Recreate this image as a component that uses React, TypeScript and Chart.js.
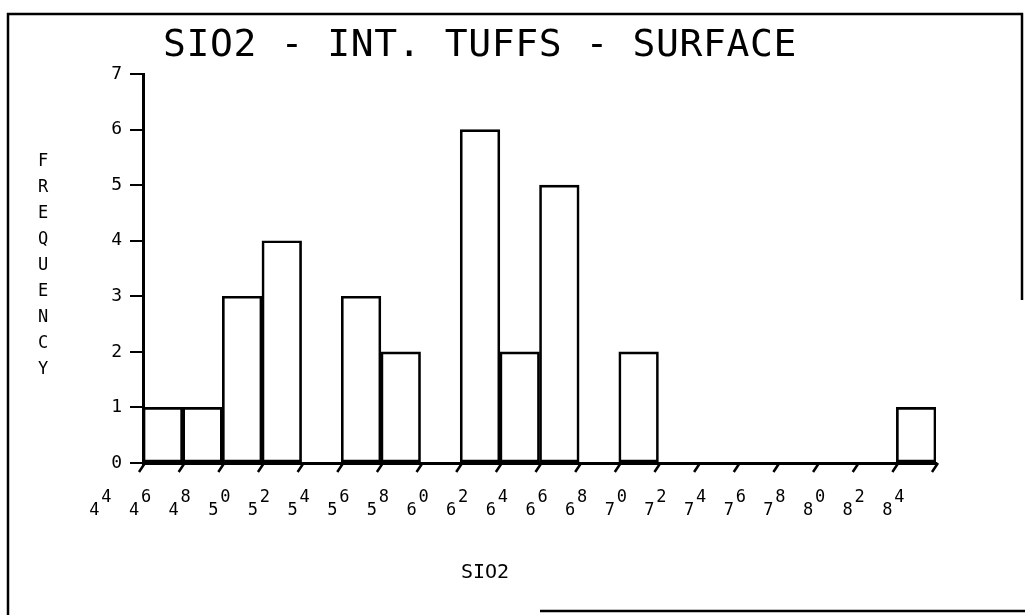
import React, { useEffect, useRef } from 'react';
import { Chart, registerables } from 'chart.js';

Chart.register(...registerables);

const TITLE = 'SIO2 - INT. TUFFS - SURFACE';
const X_TITLE = 'SIO2';
const Y_TITLE = 'FREQUENCY';

// histogram bins (lower edge, width 2) and their counts
const binStarts = [46, 48, 50, 52, 54, 56, 58, 60, 62, 64, 66, 68, 70, 72, 74, 76, 78, 80, 82, 84];
const frequencies = [1, 1, 3, 4, 0, 3, 2, 0, 6, 2, 5, 0, 2, 0, 0, 0, 0, 0, 0, 1];
const BIN_WIDTH = 2;

// x tick labels (drawn as base digit + superscript digit)
const xTickValues = [44, 46, 48, 50, 52, 54, 56, 58, 60, 62, 64, 66, 68, 70, 72, 74, 76, 78, 80, 82, 84];
const xTickLabels = ['44', '46', '48', '50', '52', '54', '56', '58', '60', '62', '64', '66', '68', '70', '72', '74', '76', '78', '80', '82', '84'];
const xTickMarks = [46, 48, 50, 52, 54, 56, 58, 60, 62, 64, 66, 68, 70, 72, 74, 76, 78, 80, 82, 84, 86];

const Y_MIN = 0;
const Y_MAX = 7;
const X_MIN = 46;
const X_MAX = 86;

const FONT = '"DejaVu Sans Mono", monospace';

const decorPlugin = {
  id: 'decor',
  afterDraw(chart: any) {
    const ctx = chart.ctx as CanvasRenderingContext2D;
    const xs = chart.scales.x;
    const area = chart.chartArea;
    ctx.save();
    ctx.strokeStyle = '#000';
    ctx.fillStyle = '#000';

    // page frame
    ctx.lineWidth = 2.5;
    ctx.beginPath();
    ctx.moveTo(8, 615);
    ctx.lineTo(8, 14);
    ctx.lineTo(1022, 14);
    ctx.lineTo(1022, 300);
    ctx.moveTo(540, 611);
    ctx.lineTo(1025, 611);
    ctx.stroke();

    // title
    ctx.font = `38px ${FONT}`;
    (ctx as any).letterSpacing = '0.6px';
    ctx.textAlign = 'left';
    ctx.textBaseline = 'alphabetic';
    ctx.fillText(TITLE, 163, 56);
    (ctx as any).letterSpacing = '0px';

    // y-axis title, stacked letters
    ctx.font = `17px ${FONT}`;
    ctx.textAlign = 'center';
    ctx.textBaseline = 'middle';
    Y_TITLE.split('').forEach((ch, i) => {
      ctx.fillText(ch, 43, 162 + 26 * i);
    });

    // slanted tick marks on x-axis
    ctx.lineWidth = 2.5;
    ctx.beginPath();
    xTickMarks.forEach((v) => {
      const px = xs.getPixelForValue(v);
      ctx.moveTo(px + 2, area.bottom);
      ctx.lineTo(px - 4, area.bottom + 9);
    });
    ctx.stroke();

    // x tick labels with superscripts
    ctx.font = `17px ${FONT}`;
    ctx.textAlign = 'center';
    ctx.textBaseline = 'alphabetic';
    xTickValues.forEach((v, i) => {
      const px = xs.getPixelForValue(v);
      const lbl = xTickLabels[i];
      ctx.fillText(lbl[0], px - 9, 515);
      ctx.fillText(lbl[1], px + 3, 502);
    });

    // x-axis title
    ctx.font = `20px ${FONT}`;
    ctx.fillText(X_TITLE, 485, 578);

    ctx.restore();
  },
};

export default function App() {
  const ref = useRef<HTMLCanvasElement | null>(null);

  useEffect(() => {
    if (!ref.current) return;
    const data = binStarts.map((s, i) => ({ x: s + BIN_WIDTH / 2, y: frequencies[i] }));
    const chart = new Chart(ref.current, {
      type: 'bar',
      data: {
        datasets: [
          {
            data,
            backgroundColor: 'rgba(255,255,255,0)',
            borderColor: '#000',
            borderWidth: 2,
            borderSkipped: false,
            barPercentage: 1,
            categoryPercentage: 1,
          },
        ],
      },
      options: {
        animation: false,
        responsive: false,
        layout: { padding: { left: 0, top: 74, right: 89, bottom: 0 } },
        plugins: {
          legend: { display: false },
          tooltip: { enabled: false },
          title: { display: false },
        },
        scales: {
          x: {
            type: 'linear',
            min: X_MIN,
            max: X_MAX,
            offset: false,
            grid: { display: false, offset: false },
            border: { display: true, color: '#000', width: 3 },
            ticks: { display: false, stepSize: BIN_WIDTH },
            afterFit: (scale: any) => {
              scale.height = 152;
            },
          },
          y: {
            min: Y_MIN,
            max: Y_MAX,
            grid: {
              drawOnChartArea: false,
              drawTicks: true,
              tickLength: 13,
              color: '#000',
              lineWidth: 2,
            },
            border: { display: true, color: '#000', width: 3 },
            ticks: {
              stepSize: 1,
              padding: 8,
              color: '#000',
              font: { family: FONT, size: 18 },
            },
            afterFit: (scale: any) => {
              scale.width = 143;
            },
          },
        },
      },
      plugins: [decorPlugin],
    });
    return () => chart.destroy();
  }, []);

  return (
    <div style={{ position: 'fixed', left: 0, top: 0, width: 1025, height: 615, background: '#fff' }}>
      <canvas ref={ref} width={1025} height={615} style={{ display: 'block' }} />
    </div>
  );
}
